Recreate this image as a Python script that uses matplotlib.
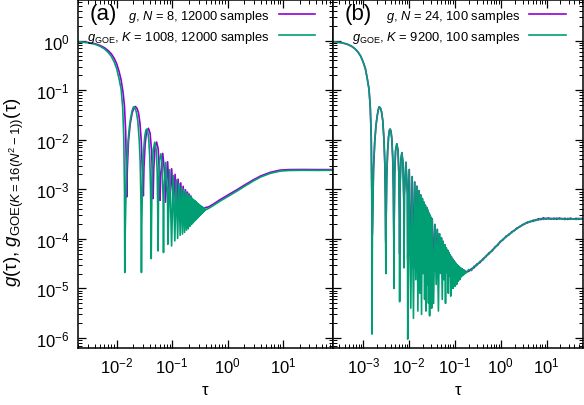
import numpy as np
import matplotlib
matplotlib.use("Agg")
import matplotlib.pyplot as plt
from matplotlib.ticker import LogLocator, NullFormatter

plt.rcParams['font.family'] = ['Liberation Sans', 'DejaVu Sans']
plt.rcParams['mathtext.fontset'] = 'custom'
plt.rcParams['mathtext.rm'] = 'Liberation Sans'
plt.rcParams['mathtext.it'] = 'Liberation Sans:italic'
plt.rcParams['mathtext.bf'] = 'Liberation Sans:bold'

PURPLE = '#9400d3'
GREEN = '#009e73'

# ---------------- panel (a): N = 8, K = 1008 ----------------
# g_GOE (green): initial decay and first arches
head_tau_goe_a = [0.002, 0.003, 0.004, 0.005, 0.006, 0.007, 0.008, 0.009, 0.010, 0.011, 0.012, 0.0128, 0.0134, 0.0138, 0.01396,
                  0.0142, 0.0150, 0.0160, 0.0170, 0.0180, 0.0190, 0.0200, 0.0212, 0.0225, 0.0240, 0.0255, 0.0265, 0.0273, 0.0277, 0.0279,
                  0.0283, 0.0292, 0.0305, 0.0320, 0.0335, 0.0347, 0.0362, 0.0378, 0.0395, 0.0408, 0.0415, 0.0419,
                  0.0424, 0.0435, 0.0455, 0.0485, 0.0515, 0.0538, 0.0552, 0.0558,
                  0.0568, 0.0595, 0.0625, 0.0660, 0.0688, 0.0698,
                  0.0710, 0.0765, 0.0825, 0.0838]
head_g_goe_a = [0.95, 0.91, 0.85, 0.77, 0.68, 0.58, 0.48, 0.37, 0.27, 0.17, 0.105, 0.045, 0.011, 9e-4, 2.1e-5,
                1.3e-4, 2.6e-3, 9.3e-3, 0.019, 0.029, 0.039, 0.046, 0.044, 0.037, 0.024, 0.0095, 3.5e-3, 6.5e-4, 1e-4, 2.1e-5,
                2e-4, 1.7e-3, 5.8e-3, 0.0115, 0.0155, 0.0164, 0.0148, 0.0103, 4.3e-3, 1.0e-3, 1.4e-4, 4e-5,
                2e-4, 1.9e-3, 6.2e-3, 8.9e-3, 6.5e-3, 2.2e-3, 2.5e-4, 5.7e-5,
                1e-3, 4e-3, 5.2e-3, 3.3e-3, 6e-4, 5.3e-5,
                8e-4, 3.5e-3, 8e-4, 7.8e-5]
# dense oscillations: peaks and dips
peak_tau_goe_a = [0.0905, 0.1045, 0.1185, 0.1325, 0.1465, 0.160, 0.174, 0.188, 0.2025, 0.2165, 0.230,
                  0.244, 0.258, 0.272, 0.286, 0.300, 0.314, 0.328, 0.342, 0.356, 0.370, 0.384]
peak_g_goe_a = [2.5e-3, 1.9e-3, 1.55e-3, 1.3e-3, 1.12e-3, 1.0e-3, 9e-4, 8.2e-4, 7.6e-4, 7.1e-4, 6.6e-4,
                6.2e-4, 5.9e-4, 5.6e-4, 5.3e-4, 5.05e-4, 4.85e-4, 4.65e-4, 4.5e-4, 4.35e-4, 4.25e-4, 4.15e-4]
dip_tau_goe_a = [0.0977, 0.1117, 0.1256, 0.1396, 0.1536, 0.1675, 0.1815, 0.1954, 0.2094, 0.2234, 0.2373,
                 0.2513, 0.2652, 0.2792, 0.2932, 0.3071, 0.3211, 0.335, 0.349, 0.363, 0.377, 0.391]
dip_g_goe_a = [7.2e-5, 9.1e-5, 1.02e-4, 1.18e-4, 1.25e-4, 1.35e-4, 1.5e-4, 1.6e-4, 1.8e-4, 1.95e-4, 2.1e-4,
               2.25e-4, 2.4e-4, 2.55e-4, 2.7e-4, 2.85e-4, 3.0e-4, 3.15e-4, 3.3e-4, 3.45e-4, 3.6e-4, 3.75e-4]
# ramp and plateau
tail_tau_goe_a = [0.41, 0.45, 0.55, 0.736, 1.0, 1.476, 2.0, 2.94, 4.0, 5.9, 8.9, 13.0, 23.6, 40.0, 80.0]
tail_g_goe_a = [3.9e-4, 4.1e-4, 4.7e-4, 5.8e-4, 7.1e-4, 9.2e-4, 1.14e-3, 1.48e-3, 1.78e-3, 2.1e-3, 2.33e-3,
                2.40e-3, 2.42e-3, 2.41e-3, 2.42e-3]

# g (purple)
head_tau_g_a = [0.002, 0.003, 0.004, 0.005, 0.006, 0.007, 0.008, 0.009, 0.010, 0.011, 0.012, 0.013, 0.0138, 0.0145, 0.0149, 0.0151,
                0.0155, 0.0163, 0.0175, 0.0190, 0.0205, 0.0217, 0.0232, 0.0247, 0.0262, 0.0277, 0.0290, 0.0302,
                0.0310, 0.0325, 0.0345, 0.0373, 0.0400, 0.0425, 0.0445, 0.0453,
                0.0465, 0.0490, 0.0525, 0.0560, 0.0590, 0.0604,
                0.0620, 0.0677, 0.0735, 0.0755]
head_g_g_a = [0.95, 0.92, 0.87, 0.80, 0.72, 0.63, 0.54, 0.44, 0.34, 0.24, 0.16, 0.09, 0.047, 0.014, 2.8e-3, 7e-4,
              2.5e-3, 9.5e-3, 0.021, 0.035, 0.044, 0.047, 0.043, 0.035, 0.022, 9.5e-3, 2.3e-3, 7.4e-4,
              2.8e-3, 8e-3, 0.0145, 0.017, 0.0135, 6e-3, 1.5e-3, 6.5e-4,
              2.5e-3, 7e-3, 9e-3, 6.5e-3, 2e-3, 6e-4,
              1.8e-3, 5.3e-3, 2e-3, 5.5e-4]
peak_tau_g_a = [0.0828, 0.098, 0.113, 0.128, 0.143, 0.158, 0.174, 0.189, 0.204, 0.219]
peak_g_g_a = [3.6e-3, 2.6e-3, 2.0e-3, 1.6e-3, 1.35e-3, 1.15e-3, 9.8e-4, 8.8e-4, 8.0e-4, 7.3e-4]
dip_tau_g_a = [0.0906, 0.1057, 0.1208, 0.1359, 0.151, 0.166, 0.181, 0.196, 0.211, 0.227]
dip_g_g_a = [5.2e-4, 5e-4, 4.8e-4, 4.6e-4, 4.5e-4, 4.4e-4, 4.3e-4, 4.3e-4, 4.3e-4, 4.3e-4]
tail_tau_g_a = [0.25, 0.30, 0.367, 0.45, 0.55, 0.736, 1.0, 1.476, 2.0, 2.94, 4.0, 5.9, 8.9, 13.0, 23.6, 40.0, 80.0]
tail_g_g_a = [5.0e-4, 4.5e-4, 4.2e-4, 4.4e-4, 5.0e-4, 6.2e-4, 7.6e-4, 9.8e-4, 1.21e-3, 1.56e-3, 1.87e-3,
              2.2e-3, 2.44e-3, 2.5e-3, 2.51e-3, 2.5e-3, 2.5e-3]

# ---------------- panel (b): N = 24, K = 9200 ----------------
head_tau_b = [2.2e-4, 3.35e-4, 4.47e-4, 5.6e-4, 6.7e-4, 7.8e-4, 8.9e-4, 1.0e-3, 1.12e-3, 1.23e-3, 1.34e-3, 1.43e-3, 1.50e-3, 1.54e-3, 1.56e-3,
              1.59e-3, 1.68e-3, 1.79e-3, 1.90e-3, 2.01e-3, 2.12e-3, 2.23e-3, 2.37e-3, 2.51e-3, 2.68e-3, 2.85e-3, 2.96e-3, 3.05e-3, 3.09e-3, 3.12e-3,
              3.16e-3, 3.26e-3, 3.41e-3, 3.58e-3, 3.74e-3, 3.88e-3, 4.04e-3, 4.22e-3, 4.41e-3, 4.56e-3, 4.64e-3, 4.68e-3,
              4.74e-3, 4.86e-3, 5.08e-3, 5.42e-3, 5.75e-3, 6.01e-3, 6.17e-3, 6.24e-3,
              6.35e-3, 6.65e-3, 6.98e-3, 7.37e-3, 7.69e-3, 7.80e-3,
              7.92e-3, 8.55e-3, 9.22e-3, 9.36e-3]
head_g_goe_b = [0.95, 0.91, 0.85, 0.77, 0.68, 0.58, 0.48, 0.37, 0.27, 0.17, 0.105, 0.045, 0.011, 9e-4, 1.2e-6,
                1.3e-4, 2.6e-3, 9.3e-3, 0.019, 0.029, 0.039, 0.046, 0.044, 0.037, 0.024, 0.0095, 3.5e-3, 6.5e-4, 1e-4, 2.0e-5,
                2e-4, 1.7e-3, 5.8e-3, 0.0115, 0.0155, 0.0164, 0.0148, 0.0103, 4.3e-3, 1.0e-3, 1.4e-4, 1.0e-5,
                2e-4, 1.9e-3, 6.0e-3, 8.3e-3, 6.0e-3, 2.0e-3, 2.5e-4, 5.4e-6,
                1e-3, 4e-3, 5.5e-3, 3.4e-3, 6e-4, 2.6e-5,
                8e-4, 3.5e-3, 8e-4, 9.5e-7]
head_g_g_b = [0.95, 0.91, 0.85, 0.77, 0.68, 0.58, 0.48, 0.37, 0.27, 0.17, 0.105, 0.045, 0.011, 9e-4, 1.1e-4,
              1.3e-4, 2.6e-3, 9.3e-3, 0.019, 0.029, 0.039, 0.046, 0.044, 0.037, 0.024, 0.0095, 3.5e-3, 6.5e-4, 1e-4, 8e-5,
              2e-4, 1.7e-3, 5.8e-3, 0.0115, 0.0155, 0.0164, 0.0148, 0.0103, 4.3e-3, 1.0e-3, 1.4e-4, 6e-5,
              2e-4, 1.9e-3, 6.0e-3, 8.3e-3, 6.0e-3, 2.0e-3, 2.5e-4, 5e-5,
              1e-3, 4e-3, 5.5e-3, 3.4e-3, 6e-4, 5e-5,
              8e-4, 3.5e-3, 8e-4, 4e-5]
peak_tau_b = [0.0101, 0.0117, 0.0133, 0.0148, 0.0164, 0.0179, 0.0195, 0.0211, 0.0226, 0.0242, 0.0257, 0.0273, 0.0289, 0.0304,
              0.0320, 0.0366, 0.0413, 0.0460, 0.0507, 0.0554, 0.0600, 0.0647, 0.0694, 0.0741,
              0.0788, 0.0834, 0.0881, 0.0928, 0.0975, 0.1022, 0.1068, 0.1115, 0.1162, 0.1209,
              0.1256, 0.1302, 0.1350, 0.1396, 0.1443, 0.1490, 0.1536, 0.1583, 0.1630]
peak_g_b = [2.5e-3, 1.8e-3, 1.4e-3, 1.15e-3, 9.4e-4, 7.7e-4, 6.5e-4, 5.5e-4, 4.8e-4, 4.3e-4, 3.8e-4, 3.3e-4, 3.0e-4, 2.7e-4,
            2.55e-4, 1.95e-4, 1.55e-4, 1.27e-4, 1.05e-4, 8.9e-5, 7.6e-5, 6.6e-5, 5.9e-5, 5.3e-5,
            4.8e-5, 4.4e-5, 4.0e-5, 3.7e-5, 3.5e-5, 3.3e-5, 3.1e-5, 3.0e-5, 2.9e-5, 2.8e-5,
            2.7e-5, 2.6e-5, 2.55e-5, 2.5e-5, 2.45e-5, 2.4e-5, 2.35e-5, 2.3e-5, 2.3e-5]
dip_tau_b = [0.01092, 0.01248, 0.01404, 0.0156, 0.01716, 0.01872, 0.02028, 0.02184, 0.0234, 0.02496, 0.02652, 0.02808, 0.02964, 0.0312,
             0.0343, 0.0390, 0.0437, 0.0484, 0.0530, 0.0577, 0.0624, 0.0671, 0.0718, 0.0764,
             0.0811, 0.0858, 0.0905, 0.0952, 0.0998, 0.1045, 0.1092, 0.1139, 0.1186, 0.1232,
             0.1279, 0.1326, 0.1373, 0.1420, 0.1466, 0.1513, 0.1560, 0.1607, 0.1654]
dip_g_goe_b = [4e-6, 2.5e-6, 1.5e-5, 3.5e-6, 8e-6, 3e-6, 2e-5, 6e-6, 3.5e-6, 1.2e-5, 5e-6, 2.8e-6, 9e-6, 4e-6,
               5e-6, 1.2e-5, 3.5e-6, 2e-5, 6e-6, 1.5e-5, 5e-6, 2.2e-5, 8e-6, 1.8e-5,
               7e-6, 2.4e-5, 1.0e-5, 2e-5, 1.1e-5, 2.2e-5, 1.2e-5, 2.3e-5, 1.4e-5, 2.4e-5,
               1.5e-5, 2.3e-5, 1.7e-5, 2.3e-5, 1.8e-5, 2.2e-5, 1.9e-5, 2.2e-5, 2.0e-5]
dip_g_g_b = [3e-5, 2.5e-5, 4e-5, 2.2e-5, 3e-5, 2.5e-5, 3.5e-5, 2.4e-5, 2.2e-5, 3e-5, 2.4e-5, 2.1e-5, 2.6e-5, 2.2e-5,
             2.2e-5, 2.6e-5, 2e-5, 2.8e-5, 2.1e-5, 2.4e-5, 2e-5, 2.6e-5, 2.1e-5, 2.4e-5,
             2e-5, 2.6e-5, 2.1e-5, 2.4e-5, 2.1e-5, 2.4e-5, 2.1e-5, 2.5e-5, 2.2e-5, 2.5e-5,
             2.2e-5, 2.4e-5, 2.2e-5, 2.4e-5, 2.2e-5, 2.3e-5, 2.1e-5, 2.3e-5, 2.1e-5]
tail_tau_b = [0.18, 0.2, 0.23, 0.26, 0.3, 0.35, 0.414, 0.48, 0.55, 0.65,
              0.75, 0.87, 0.96, 1.1, 1.3, 1.5, 1.75, 2.0, 2.22, 2.6,
              3.0, 3.3, 3.8, 4.4, 5.1, 5.8, 6.6, 7.5, 8.5, 9.7,
              11.0, 12.5, 14.5, 16.5, 19.0, 22.0, 25.0, 29.0, 33.0, 38.0,
              44.0, 50.0, 57.0, 65.0]
tail_g_goe_b = [2.1e-5, 2.4e-5, 2.3e-5, 2.8e-5, 2.9e-5, 3.5e-5, 3.8e-5, 4.6e-5, 4.9e-5, 6.0e-5,
                6.6e-5, 7.9e-5, 8.4e-5, 9.8e-5, 1.08e-4, 1.25e-4, 1.34e-4, 1.52e-4, 1.58e-4, 1.80e-4,
                1.88e-4, 2.05e-4, 2.08e-4, 2.28e-4, 2.25e-4, 2.45e-4, 2.4e-4, 2.58e-4, 2.47e-4, 2.62e-4,
                2.5e-4, 2.6e-4, 2.48e-4, 2.63e-4, 2.5e-4, 2.58e-4, 2.45e-4, 2.6e-4, 2.48e-4, 2.55e-4,
                2.46e-4, 2.6e-4, 2.5e-4, 2.55e-4]
tail_g_g_b = [2.2e-5, 2.2e-5, 2.5e-5, 2.6e-5, 3.1e-5, 3.3e-5, 4.0e-5, 4.4e-5, 5.2e-5, 5.7e-5,
              6.9e-5, 7.5e-5, 8.8e-5, 9.4e-5, 1.13e-4, 1.2e-4, 1.4e-4, 1.47e-4, 1.65e-4, 1.74e-4,
              1.95e-4, 1.98e-4, 2.18e-4, 2.2e-4, 2.38e-4, 2.35e-4, 2.55e-4, 2.45e-4, 2.66e-4, 2.5e-4,
              2.65e-4, 2.5e-4, 2.62e-4, 2.48e-4, 2.64e-4, 2.5e-4, 2.6e-4, 2.47e-4, 2.62e-4, 2.5e-4,
              2.6e-4, 2.48e-4, 2.58e-4, 2.5e-4]

legend_a = [r'$g$, $N$ = 8, 12000 samples', r'$g_{\mathrm{GOE}}$, $K$ = 1008, 12000 samples']
legend_b = [r'$g$, $N$ = 24, 100 samples', r'$g_{\mathrm{GOE}}$, $K$ = 9200, 100 samples']


def build(head_t, head_g, pk_t, pk_g, dp_t, dp_g, tail_t, tail_g):
    # head, then alternating peak/dip, then the ramp
    t = list(head_t)
    g = list(head_g)
    for a, b, c, d in zip(pk_t, pk_g, dp_t, dp_g):
        t += [a, c]
        g += [b, d]
    return np.array(t + list(tail_t)), np.array(g + list(tail_g))


ga = build(head_tau_g_a, head_g_g_a, peak_tau_g_a, peak_g_g_a, dip_tau_g_a, dip_g_g_a, tail_tau_g_a, tail_g_g_a)
goea = build(head_tau_goe_a, head_g_goe_a, peak_tau_goe_a, peak_g_goe_a, dip_tau_goe_a, dip_g_goe_a,
             tail_tau_goe_a, tail_g_goe_a)
gb = build(head_tau_b, head_g_g_b, peak_tau_b, peak_g_b, dip_tau_b, dip_g_g_b, tail_tau_b, tail_g_g_b)
goeb = build(head_tau_b, head_g_goe_b, peak_tau_b, peak_g_b, dip_tau_b, dip_g_goe_b, tail_tau_b, tail_g_goe_b)

fig = plt.figure(figsize=(5.84, 4.06), dpi=100)
ax1 = fig.add_axes([0.1336, 0.1397, 0.4366, 0.8578])
ax2 = fig.add_axes([0.5702, 0.1397, 0.4281, 0.8578])

panels = [(ax1, ga, goea, legend_a, '(a)', (0.002, 80)),
          (ax2, gb, goeb, legend_b, '(b)', (2.2e-4, 62))]

for ax, p, q, labels, tag, xl in panels:
    l1, = ax.plot(p[0], p[1], color=PURPLE, lw=1.2)
    l2, = ax.plot(q[0], q[1], color=GREEN, lw=1.2)
    ax.set_xscale('log')
    ax.set_yscale('log')
    ax.set_xlim(*xl)
    ax.set_ylim(6.2e-7, 6.6)
    ax.xaxis.set_major_locator(LogLocator(base=10, numticks=20))
    ax.xaxis.set_minor_locator(LogLocator(base=10, subs=np.arange(2, 10), numticks=20))
    ax.yaxis.set_major_locator(LogLocator(base=10, numticks=20))
    ax.yaxis.set_minor_locator(LogLocator(base=10, subs=np.arange(2, 10), numticks=20))
    ax.xaxis.set_minor_formatter(NullFormatter())
    ax.yaxis.set_minor_formatter(NullFormatter())
    ax.tick_params(which='both', direction='in', top=True, right=True, labelsize=12)
    ax.tick_params(which='major', length=5.5, width=0.9)
    ax.tick_params(which='minor', length=2.8, width=0.7)
    ax.tick_params(axis='x', pad=5)
    ax.tick_params(axis='y', pad=6)
    for s in ax.spines.values():
        s.set_linewidth(1.1)
    ax.set_xlabel('τ', fontsize=12, labelpad=5)
    ax.text(0.045, 0.992, tag, transform=ax.transAxes, fontsize=16, ha='left', va='top')
    ax.legend([l1, l2], labels, loc='upper right', bbox_to_anchor=(0.93, 0.978),
              markerfirst=False, frameon=False, fontsize=9.3, handlelength=2.8,
              handletextpad=0.7, labelspacing=0.4, borderpad=0, borderaxespad=0)

ax2.tick_params(axis='y', labelleft=False)
ax1.set_ylabel(r'$g(\mathrm{\tau})$, $g_{\mathrm{GOE}(K=16(N^2-1))}(\mathrm{\tau})$', fontsize=13.5, labelpad=1)
ax1.yaxis.set_label_coords(-0.205, 0.45)

fig.savefig('out.png', dpi=100)
